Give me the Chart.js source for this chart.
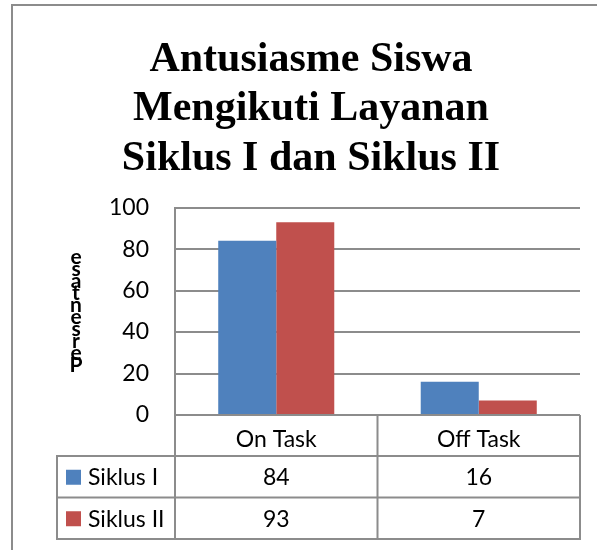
<!DOCTYPE html>
<html>
<head>
<meta charset="utf-8">
<script src="https://cdn.jsdelivr.net/npm/chart.js@4.4.1/dist/chart.umd.min.js"></script>
<style>
  html, body { margin: 0; padding: 0; background: #fff; }
  canvas { display: block; }
</style>
</head>
<body>
<canvas id="chart" width="597" height="550"></canvas>
<script>
const titleLines = ["Antusiasme Siswa", "Mengikuti Layanan", "Siklus I dan Siklus II"];
const yAxisTitle = "Persentase";
const categories = ["On Task", "Off Task"];
const seriesNames = ["Siklus I", "Siklus II"];
const siklus1 = [84, 16];
const siklus2 = [93, 7];
const yTicks = { min: 0, max: 100, step: 20 };

const seriesColors = ["#4F81BD", "#C0504D"];
const lineColor = "#8c8c8c";
const sans = "Lato";

// table under the plot (header row = x axis labels, then one row per series)
const dataTable = {
    id: "dataTable",
    beforeDraw(chart) {
        const ctx = chart.ctx;
        ctx.save();
        ctx.strokeStyle = lineColor;
        ctx.lineWidth = 2;
        ctx.strokeRect(12, 5, 800, 800);
        ctx.restore();
    },
    afterDraw(chart) {
        const { ctx, chartArea } = chart;
        const x = chart.scales.x;
        const rows = [siklus1, siklus2];
        const rowH = 41.5;
        const tLeft = chartArea.left - 118;
        const hTop = x.top, hBottom = x.bottom;
        const tBottom = hBottom + rowH * rows.length;
        const mid = x.getPixelForValue(0.5);

        ctx.save();
        ctx.strokeStyle = lineColor;
        ctx.lineWidth = 2;
        ctx.beginPath();
        [chartArea.left, mid, chartArea.right].forEach(px => { ctx.moveTo(px, hTop); ctx.lineTo(px, tBottom); });
        ctx.moveTo(tLeft, hBottom); ctx.lineTo(tLeft, tBottom);
        ctx.moveTo(chartArea.left, hTop); ctx.lineTo(chartArea.right, hTop);
        for (let i = 0; i <= rows.length; i++) {
            const y = hBottom + rowH * i;
            ctx.moveTo(tLeft - 1, y); ctx.lineTo(chartArea.right + 1, y);
        }
        ctx.stroke();

        ctx.font = `23px ${sans}`;
        ctx.fillStyle = "#000";
        ctx.textBaseline = "middle";
        rows.forEach((vals, r) => {
            const cy = hBottom + rowH * r + rowH / 2 + 1;
            ctx.fillStyle = seriesColors[r];
            ctx.fillRect(tLeft + 9, cy - 8, 15, 15);
            ctx.fillStyle = "#000";
            ctx.textAlign = "left";
            ctx.fillText(seriesNames[r], tLeft + 31, cy);
            ctx.textAlign = "center";
            vals.forEach((v, i) => ctx.fillText(String(v), x.getPixelForValue(i), cy));
        });

        // y axis title, letters stacked upright (bottom to top)
        ctx.font = `bold 21px ${sans}`;
        ctx.textAlign = "center";
        const letters = yAxisTitle.split("");
        letters.forEach((ch, i) => ctx.fillText(ch, 76, 365 - i * 12));
        ctx.restore();
    }
};

new Chart(document.getElementById("chart"), {
    type: "bar",
    data: {
        labels: categories,
        datasets: [
            { label: seriesNames[0], data: siklus1, backgroundColor: seriesColors[0] },
            { label: seriesNames[1], data: siklus2, backgroundColor: seriesColors[1] }
        ]
    },
    options: {
        responsive: false,
        animation: false,
        devicePixelRatio: 1,
        categoryPercentage: 0.573,
        barPercentage: 1,
        layout: { padding: { left: 42, right: 17, top: 0, bottom: 94 } },
        plugins: {
            legend: { display: false },
            tooltip: { enabled: false },
            title: {
                display: true,
                text: titleLines,
                color: "#000",
                font: { family: "Liberation Serif", size: 42, weight: "bold", lineHeight: 1.18 },
                padding: { top: 35, bottom: 24 }
            }
        },
        scales: {
            x: {
                grid: { display: false },
                border: { display: false },
                ticks: { color: "#000", padding: 3, font: { family: sans, size: 23 } },
                afterFit(scale) { scale.height = 41; }
            },
            y: {
                min: yTicks.min,
                max: yTicks.max,
                grid: { color: lineColor, lineWidth: 2, drawTicks: false },
                border: { display: true, color: lineColor, width: 2 },
                ticks: { stepSize: yTicks.step, color: "#000", padding: 26, font: { family: sans, size: 23 } },
                afterFit(scale) { scale.width = 133; }
            }
        }
    },
    plugins: [dataTable]
});
</script>
</body>
</html>
